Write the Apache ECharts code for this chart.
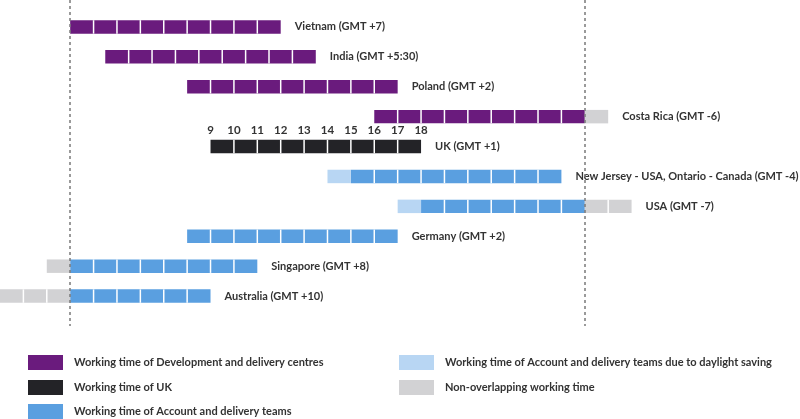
<!DOCTYPE html>
<html><head><meta charset="utf-8">
<script src="https://cdn.jsdelivr.net/npm/echarts@6/dist/echarts.min.js"></script>
<style>html,body{margin:0;padding:0;background:#fff}#c{width:800px;height:419px}</style>
</head><body><div id="c"></div>
<script>
// Rows (top to bottom)
const countries = ['Vietnam (GMT +7)', 'India (GMT +5:30)', 'Poland (GMT +2)', 'Costa Rica (GMT -6)', 'UK (GMT +1)',
  'New Jersey - USA, Ontario - Canada (GMT -4)', 'USA (GMT -7)', 'Germany (GMT +2)', 'Singapore (GMT +8)', 'Australia (GMT +10)'];
// Segments: [rowIndex, startHourUK, endHourUK]
const devCentres = [[0, 3, 12], [1, 4.5, 13.5], [2, 8, 17], [3, 16, 25]];
const ukTime = [[4, 9, 18]];
const accountTeams = [[5, 15, 24], [6, 18, 25], [7, 8, 17], [8, 3, 11], [9, 3, 9]];
const daylightSaving = [[5, 14, 15], [6, 17, 18]];
const nonOverlap = [[3, 25, 26], [6, 25, 27], [8, 2, 3], [9, 0, 3]];
const ukHours = [9, 10, 11, 12, 13, 14, 15, 16, 17, 18];
const overlapBounds = [3, 25];

const seriesNames = ['Working time of Development and delivery centres', 'Working time of UK',
  'Working time of Account and delivery teams', 'Working time of Account and delivery teams due to daylight saving',
  'Non-overlapping working time'];
const colors = ['#6a1b7d', '#232327', '#5a9fe0', '#b8d6f3', '#d2d2d4'];
const segSets = [devCentres, ukTime, accountTeams, daylightSaving, nonOverlap];

const TXT = '#333333';
const FONT = 'Lato';

function renderSeg(params, api) {
  const row = api.value(0), s = api.value(1), e = api.value(2);
  const p0 = api.coord([s, row]), p1 = api.coord([e, row]);
  const h = api.size([0, 1])[1] * 0.45;
  const color = api.visual('color');
  const children = [{ type: 'rect', shape: { x: p0[0], y: p0[1] - h / 2, width: p1[0] - p0[0], height: h }, style: { fill: color } }];
  for (let t = s + 1; t < e - 0.001; t += 1) {
    const x = api.coord([t, row])[0];
    children.push({ type: 'line', shape: { x1: x, y1: p0[1] - h / 2, x2: x, y2: p0[1] + h / 2 }, style: { stroke: '#fff', lineWidth: 1.5 } });
  }
  return { type: 'group', children };
}

const series = segSets.map((set, i) => ({
  name: seriesNames[i], type: 'custom', renderItem: renderSeg,
  itemStyle: { color: colors[i] }, encode: { x: [1, 2], y: 0 }, data: set, z: 2
}));

// label end per row
const labelData = countries.map((c, i) => {
  let end = -Infinity;
  segSets.forEach(set => set.forEach(s => { if (s[0] === i) end = Math.max(end, s[2]); }));
  return [i, end, c];
});
series.push({
  type: 'custom', silent: true, z: 3,
  renderItem: (params, api) => {
    const p = api.coord([api.value(1), api.value(0)]);
    return { type: 'text', x: p[0] + 14, y: p[1], style: { text: labelData[params.dataIndex][2], fill: TXT, font: 'bold 11px ' + FONT, textVerticalAlign: 'middle' } };
  },
  encode: { x: 1, y: 0 }, data: labelData
});
// UK hour labels
const ukRow = 4;
series.push({
  type: 'custom', silent: true, z: 3,
  renderItem: (params, api) => {
    const p = api.coord([api.value(0), ukRow]);
    return { type: 'text', x: p[0], y: p[1] - 16, style: { text: String(api.value(0)), fill: TXT, font: 'bold 11.5px ' + FONT, textAlign: 'center', textVerticalAlign: 'middle' } };
  },
  encode: { x: 0 }, data: ukHours.map(h => [h])
});
// dashed overlap lines
series.push({
  type: 'custom', silent: true, z: 5, data: [], renderItem: () => null,
  markLine: { silent: true, symbol: 'none', label: { show: false },
    lineStyle: { color: '#7a7a7a', type: [3, 3], width: 1.5 },
    data: overlapBounds.map(v => ({ xAxis: v })) }
});

const legendPos = [[28, 355], [28, 380], [28, 404], [399, 355], [399, 380]];
const chart = echarts.init(document.getElementById('c'));
chart.setOption({
  animation: false,
  grid: { left: 0, right: 0, top: 0, height: 326 },
  xAxis: { type: 'value', min: 0, max: 34.2, show: false },
  yAxis: { type: 'value', min: -0.9, max: 10, inverse: true, show: false },
  legend: seriesNames.map((n, i) => ({
    data: [n], left: legendPos[i][0], top: legendPos[i][1], padding: 0, itemWidth: 35, itemHeight: 15, icon: 'rect',
    textStyle: { color: TXT, fontFamily: FONT, fontWeight: 'bold', fontSize: 11, padding: [0, 0, 0, 6] }, selectedMode: false
  })),
  series
});
</script></body></html>
